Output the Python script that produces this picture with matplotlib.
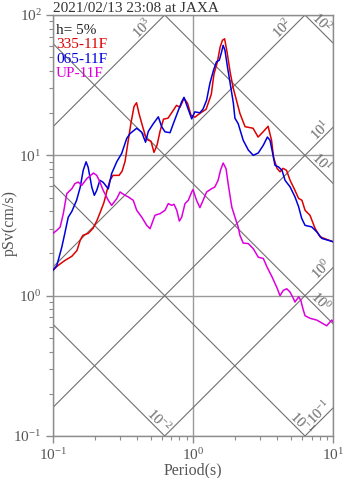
import numpy as np
import matplotlib
matplotlib.use("Agg")
import matplotlib.pyplot as plt
from matplotlib.ticker import LogLocator, NullFormatter

plt.rcParams['font.family'] = ['Liberation Serif', 'DejaVu Serif']
plt.rcParams['mathtext.fontset'] = 'custom'
plt.rcParams['mathtext.rm'] = 'Liberation Serif'
plt.rcParams['mathtext.it'] = 'Liberation Serif:italic'

# pseudo velocity response spectra, h = 5%
periods_335 = [0.100, 0.109, 0.122, 0.137, 0.149, 0.157, 0.164, 0.179, 0.194, 0.207,
               0.221, 0.232, 0.244, 0.256, 0.269, 0.297, 0.312, 0.328, 0.344, 0.362,
               0.380, 0.396, 0.412, 0.437, 0.466, 0.502, 0.527, 0.554, 0.582, 0.616,
               0.664, 0.709, 0.763, 0.808, 0.863, 0.914, 0.968, 1.03, 1.12, 1.24,
               1.35, 1.41, 1.49, 1.56, 1.62, 1.68, 1.75, 1.84, 1.93, 2.04,
               2.16, 2.35, 2.68, 2.91, 3.16, 3.43, 3.63, 3.75, 3.97, 4.17,
               4.38, 4.64, 4.92, 5.33, 5.65, 5.98, 6.29, 6.82, 7.41, 8.04,
               8.95, 10.0]
psv_335 = [1.51, 1.64, 1.78, 1.91, 2.10, 2.48, 2.69, 2.78, 3.02, 3.44,
           4.06, 4.62, 5.63, 6.64, 7.20, 7.20, 7.69, 9.06, 12.4, 17.2,
           22.3, 23.7, 19.9, 16.1, 13.0, 12.6, 10.5, 11.8, 14.8, 18.1,
           18.4, 20.3, 22.7, 22.0, 25.5, 23.5, 19.3, 18.7, 19.9, 21.3,
           27.2, 37.8, 46.0, 58.9, 66.0, 67.7, 54.2, 39.1, 30.5, 24.7,
           19.9, 16.0, 15.6, 13.5, 14.7, 16.1, 12.8, 9.68, 8.08, 7.63,
           8.08, 7.82, 6.64, 5.63, 4.94, 4.78, 4.06, 3.74, 3.02, 2.63,
           2.52, 2.42]

periods_065 = [0.100, 0.107, 0.116, 0.122, 0.129, 0.137, 0.148, 0.157, 0.165, 0.173,
               0.179, 0.190, 0.198, 0.206, 0.217, 0.229, 0.249, 0.263, 0.286, 0.310,
               0.337, 0.356, 0.397, 0.431, 0.459, 0.480, 0.521, 0.566, 0.598, 0.632,
               0.686, 0.724, 0.786, 0.831, 0.863, 0.911, 0.979, 1.03, 1.12, 1.18,
               1.25, 1.32, 1.40, 1.47, 1.54, 1.60, 1.64, 1.69, 1.76, 1.84,
               1.94, 1.99, 2.10, 2.28, 2.48, 2.69, 2.92, 3.17, 3.39, 3.54,
               3.70, 3.84, 4.06, 4.31, 4.53, 4.92, 5.33, 5.66, 5.95, 6.29,
               7.02, 7.62, 8.27, 9.21, 10.0]
psv_065 = [1.51, 1.64, 2.21, 2.78, 3.62, 3.99, 4.78, 5.92, 7.82, 8.99,
           8.21, 5.92, 5.19, 5.63, 6.64, 6.42, 5.77, 7.41, 8.99, 10.3,
           13.2, 14.3, 15.6, 14.6, 12.4, 14.8, 16.8, 18.8, 16.0, 14.7,
           14.5, 16.8, 20.9, 24.1, 25.9, 22.2, 18.2, 20.4, 20.1, 21.4,
           24.7, 32.6, 40.4, 46.4, 47.6, 54.7, 60.8, 56.0, 42.7, 32.6,
           23.5, 18.4, 16.8, 12.8, 10.9, 10.0, 10.4, 11.8, 13.5, 12.8,
           10.3, 8.49, 8.28, 7.82, 6.64, 5.96, 5.06, 4.30, 3.56, 3.17,
           3.09, 2.85, 2.56, 2.48, 2.42]

periods_up = [0.100, 0.107, 0.113, 0.119, 0.126, 0.137, 0.144, 0.152, 0.161, 0.175,
              0.195, 0.206, 0.217, 0.229, 0.249, 0.263, 0.286, 0.302, 0.328, 0.346,
              0.375, 0.397, 0.431, 0.468, 0.494, 0.536, 0.582, 0.632, 0.667, 0.705,
              0.732, 0.766, 0.799, 0.831, 0.877, 0.926, 0.979, 1.00, 1.06, 1.12,
              1.18, 1.25, 1.36, 1.43, 1.51, 1.57, 1.64, 1.72, 1.78, 1.89,
              1.99, 2.10, 2.16, 2.28, 2.48, 2.69, 2.92, 3.17, 3.37, 3.66,
              3.95, 4.17, 4.40, 4.66, 4.92, 5.21, 5.33, 5.66, 5.86, 6.11,
              6.29, 6.82, 7.62, 8.49, 8.97, 9.74, 10.0]
psv_up = [2.77, 2.92, 3.08, 3.84, 5.33, 5.79, 6.29, 6.45, 6.11, 6.82,
          7.48, 7.20, 6.45, 5.63, 4.78, 4.40, 4.91, 5.48, 5.19, 5.05,
          4.78, 4.06, 3.63, 3.17, 3.00, 3.74, 3.84, 4.06, 4.53, 4.40,
          4.48, 4.06, 3.40, 3.63, 4.53, 4.78, 5.48, 5.70, 4.78, 4.24,
          4.78, 5.48, 5.79, 5.94, 6.64, 7.82, 8.81, 8.04, 6.29, 4.28,
          3.63, 3.08, 2.69, 2.37, 2.35, 2.16, 1.88, 1.84, 1.60, 1.36,
          1.15, 1.00, 1.09, 1.12, 1.06, 0.95, 0.90, 0.98, 0.93, 0.79,
          0.72, 0.69, 0.67, 0.63, 0.61, 0.67, 0.65]

series_names = ['335-11F', '065-11F', 'UP-11F']
series_colors = ['#dd0000', '#0000dd', '#dd00dd']

# tripartite grid: constant acceleration (gal) and displacement (cm)
acc_levels = [0.1, 1, 10, 100, 1000]
disp_levels = [0.01, 0.1, 1, 10, 100]
acc_label_periods = {1000: 0.47, 100: 4.7, 10: 8.8, 1: 8.9, 0.1: 8.6}
disp_label_periods = {100: 7.7, 10: 7.6, 1: 7.5, 0.1: 5.5, 0.01: 0.53}

fig = plt.figure(figsize=(3.47, 4.78), dpi=100)
ax = fig.add_axes([52.7 / 347, 42 / 478, 280.6 / 347, 421 / 478])
ax.set_xscale('log')
ax.set_yscale('log')
ax.set_xlim(0.1, 10)
ax.set_ylim(0.1, 100)

grey = '#8c8c8c'
t_line = np.array([0.1, 10.0])
for a in acc_levels:
    ax.plot(t_line, a * t_line / (2 * np.pi), color='#707070', lw=0.8, zorder=1)
for d in disp_levels:
    ax.plot(t_line, 2 * np.pi * d / t_line, color='#707070', lw=0.8, zorder=1)

for a, tp in acc_label_periods.items():
    ax.annotate(f"$10^{{{int(round(np.log10(a)))}}}$", xy=(tp, a * tp / (2 * np.pi)),
                xytext=(-4.5, 4.5), textcoords='offset pixels', rotation=45,
                ha='center', va='center', rotation_mode='anchor',
                fontsize=10.5, color='#666666', annotation_clip=False)
for d, tp in disp_label_periods.items():
    ax.annotate(f"$10^{{{int(round(np.log10(d)))}}}$", xy=(tp, 2 * np.pi * d / tp),
                xytext=(4.5, 4.5), textcoords='offset pixels', rotation=-45,
                ha='center', va='center', rotation_mode='anchor',
                fontsize=10.5, color='#666666', annotation_clip=False)

ax.grid(True, which='major', color='#9a9a9a', lw=1.0)
ax.set_axisbelow(True)

for per, sv, col in zip([periods_335, periods_065, periods_up],
                        [psv_335, psv_065, psv_up], series_colors):
    ax.plot(per, sv, color=col, lw=1.1, zorder=3)

# legend as plain coloured text
ax.text(0.012, 0.964, 'h= 5%', transform=ax.transAxes, fontsize=11,
        color='#222222', va='center')
for i, (name, col) in enumerate(zip(series_names, series_colors)):
    ax.text(0.012, 0.929 - i * 0.0345, name, transform=ax.transAxes,
            fontsize=11, color=col, va='center')

for sp in ax.spines.values():
    sp.set_color(grey)
    sp.set_linewidth(1.0)
ax.xaxis.set_major_locator(LogLocator(base=10))
ax.yaxis.set_major_locator(LogLocator(base=10))
ax.xaxis.set_minor_formatter(NullFormatter())
ax.yaxis.set_minor_formatter(NullFormatter())
ax.tick_params(which='major', length=5, width=1.0, color=grey,
               labelsize=11, labelcolor='#555555', pad=3)
ax.tick_params(which='minor', length=3, width=0.8, color=grey)

fig.text(52.7 / 347, 1 - 11.5 / 478, '2021/02/13 23:08 at JAXA', fontsize=11,
         color='#333333', va='baseline', ha='left')
fig.text(193 / 347, 1 - 470 / 478, 'Period(s)', fontsize=11.5,
         color='#555555', ha='center', va='center')
fig.text(10 / 347, 1 - 223.5 / 478, 'pSv(cm/s)', fontsize=11.5,
         color='#555555', ha='center', va='center', rotation=90)

fig.savefig('out.png', dpi=100)
